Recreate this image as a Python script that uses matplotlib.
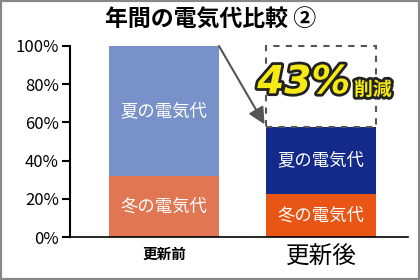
import matplotlib.pyplot as plt
import matplotlib.patheffects as pe
from matplotlib.patches import Rectangle

plt.rcParams['font.family'] = ['Noto Sans CJK JP', 'DejaVu Sans']

categories = ["更新前", "更新後"]
winter = [0.32, 0.225]
summer = [0.68, 0.35]
season_labels = ["冬の電気代", "夏の電気代"]
winter_colors = ["#e07652", "#e85514"]
summer_colors = ["#7891c8", "#142a8a"]
yticks = [0, 0.2, 0.4, 0.6, 0.8, 1.0]
title = "年間の電気代比較 ②"
reduction = "43%"

BAR_W = 0.70

fig = plt.figure(figsize=(4.2, 2.8), dpi=100)
ax = fig.add_axes([70/420, 43/280, 338/420, 191/280])

x = list(range(len(categories)))
ax.bar(x, winter, width=BAR_W, color=winter_colors)
ax.bar(x, summer, width=BAR_W, bottom=winter, color=summer_colors)

for i in x:
    ax.text(i, winter[i] / 2, season_labels[0], color="white",
            ha="center", va="center", fontsize=12.5)
    ax.text(i, winter[i] + summer[i] / 2, season_labels[1], color="white",
            ha="center", va="center", fontsize=12.5)

ax.set_xlim(-0.599, 1.554)
ax.set_ylim(0, 1)
ax.set_yticks(yticks)
ax.set_yticklabels(["{}%".format(int(round(v * 100))) for v in yticks], fontsize=12)
ax.tick_params(axis="y", length=6, width=1.5, pad=2)
ax.set_xticks(x)
ax.set_xticklabels(categories)
ax.get_xticklabels()[0].set_fontsize(10.5)
ax.get_xticklabels()[0].set_fontweight("bold")
ax.get_xticklabels()[1].set_fontsize(17)
ax.tick_params(axis="x", length=0, pad=6)

for s in ["top", "right"]:
    ax.spines[s].set_visible(False)
ax.spines["left"].set_linewidth(1.5)
ax.spines["bottom"].set_linewidth(1.2)

# dashed box for the saved share
total_after = winter[1] + summer[1]
ax.add_patch(Rectangle((1 - BAR_W / 2, total_after), BAR_W, 1 - total_after,
                       fill=False, edgecolor="#555555", linestyle=(0, (3, 3)),
                       linewidth=1.5, clip_on=False))

# arrow from old top to new top
ax.annotate("", xy=(1 - BAR_W / 2 - 0.01, total_after + 0.015),
            xytext=(0 + BAR_W / 2, 1.0),
            arrowprops=dict(arrowstyle="-|>,head_length=1.0,head_width=0.5",
                        color="#555555", lw=1.5, shrinkA=0, shrinkB=0))

stroke = [pe.withStroke(linewidth=4, foreground="#222222")]
ax.text(0.89, 0.81, reduction, color="#f5ea14", fontsize=28, fontweight="bold",
        style="italic", ha="center", va="center", family="DejaVu Sans",
        path_effects=stroke)
ax.text(1.33, 0.77, "削減", color="#f5ea14", fontsize=13.5, fontweight="bold",
        ha="center", va="center", path_effects=stroke)

fig.text(211/420, 1 - 20/280, title, ha="center", va="center",
         fontsize=16.5, fontweight="bold")

fig.patches.append(Rectangle((0, 0), 1, 1, transform=fig.transFigure,
                             fill=False, edgecolor="#888888", linewidth=3))

fig.savefig("out.png", dpi=100)
